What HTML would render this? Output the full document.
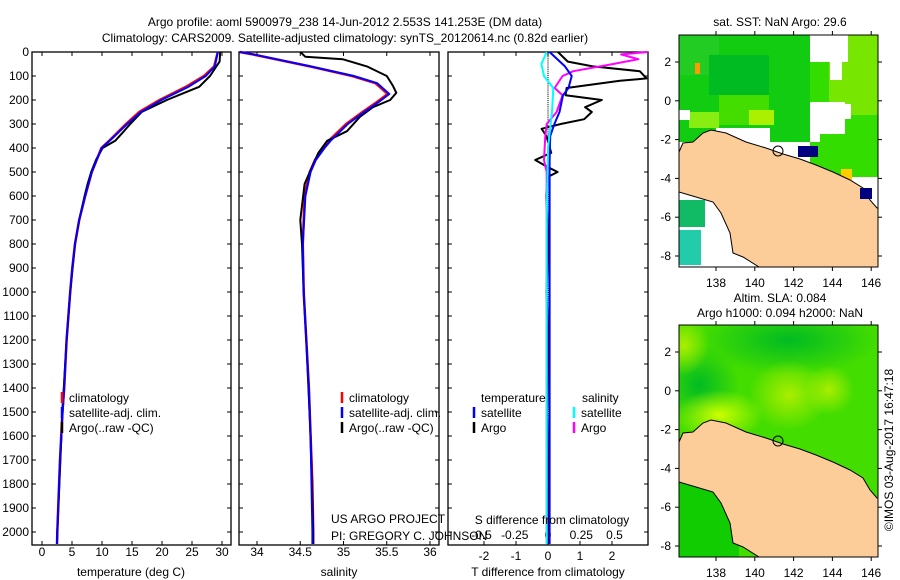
<!DOCTYPE html>
<html><head><meta charset="utf-8">
<style>
body{margin:0;background:#fff;width:900px;height:580px;overflow:hidden}
svg{position:absolute;left:0;top:0}
text{font-family:"Liberation Sans",sans-serif;font-size:12px;fill:#000}
</style></head>
<body>
<svg id="root" width="900" height="580" viewBox="0 0 900 580">
<text x="345" y="26" text-anchor="middle" font-size="13">Argo profile: aoml 5900979_238 14-Jun-2012 2.553S 141.253E (DM data)</text>
<text x="345" y="42" text-anchor="middle" font-size="13">Climatology: CARS2009. Satellite-adjusted climatology: synTS_20120614.nc (0.82d earlier)</text>
<g id="panels"></g>
<g id="maps"></g>
<text transform="translate(893,450) rotate(-90)" text-anchor="middle">©IMOS 03-Aug-2017 16:47:18</text>
</svg>
<script>
// ---- data ----
const depthTicks=[0,100,200,300,400,500,600,700,800,900,1000,1100,1200,1300,1400,1500,1600,1700,1800,1900,2000];
const tempTicks=[0,5,10,15,20,25,30];
const salTicks=[34,34.5,35,35.5,36];
const salTickLabels=["34","34.5","35","35.5","36"];
const tdTicks=[-2,-1,0,1,2];
const sdTicks=[-0.5,-0.25,0,0.25,0.5];
const sdTickLabels=["-0.5","-0.25","0","0.25","0.5"];
const climDepth=[0,60,100,145,200,250,300,367,400,500,600,700,800,900,1000,1100,1200,1400,1500,1700,1900,2000,2050];
const climTemp=[29.3,28.7,27.0,24.0,19.6,16.2,14.0,11.3,9.9,8.3,7.2,6.2,5.5,5.05,4.7,4.4,4.1,3.7,3.4,3.0,2.7,2.55,2.5];
const satTemp=[29.3,28.8,27.3,24.4,19.9,16.5,14.2,11.4,9.95,8.3,7.2,6.2,5.5,5.05,4.7,4.4,4.1,3.7,3.45,3.0,2.7,2.55,2.5];
const argoTDepth=[0,40,100,145,160,200,250,300,340,370,400,450,500,550,600,700,800,1000,1200,1500,2000,2050];
const argoTemp=[29.7,29.6,28.0,26.2,24.7,20.8,16.6,14.7,13.3,12.2,10.1,9.0,8.2,7.6,7.1,6.2,5.5,4.7,4.1,3.4,2.55,2.5];
const salDepth=[0,10,60,100,130,175,210,250,300,370,400,450,500,600,800,1000,1200,1400,1600,1800,2000,2050];
const climSal=[33.80,33.95,34.61,35.10,35.37,35.51,35.38,35.22,35.03,34.83,34.76,34.67,34.61,34.55,34.53,34.54,34.57,34.60,34.62,34.64,34.65,34.65];
const satSal=[33.80,33.96,34.62,35.12,35.39,35.53,35.40,35.24,35.05,34.85,34.78,34.68,34.62,34.56,34.53,34.54,34.57,34.60,34.62,34.63,34.64,34.64];
const argoSDepth=[0,20,30,60,100,140,170,200,230,270,330,370,420,500,550,700,800,1000,1200,1600,2000,2050];
const argoSal=[34.50,34.56,34.99,35.27,35.50,35.57,35.61,35.54,35.34,35.19,35.04,34.81,34.71,34.61,34.55,34.50,34.52,34.54,34.57,34.62,34.65,34.65];
const dTDepth=[0,60,100,150,180,250,300,350,450,600,1000,1500,2050];
const dTsat=[0.05,0.53,0.74,0.64,0.47,0.36,0.2,0.07,0.05,0.05,0.05,0.05,0.05];
const dADepth=[0,40,60,80,110,120,150,180,200,230,250,280,300,320,350,420,450,480,500,520,600,800,1000,1200,1500,1800,2050];
const dTargo=[0.31,0.62,1.4,2.87,3.08,2.25,0.58,0.55,1.68,1.16,1.37,1.13,0.4,-0.2,-0.05,0.1,-0.4,0.0,0.3,0.0,-0.05,0.02,-0.05,0.02,-0.03,0.02,0];
const dSDepth=[0,10,30,50,80,100,150,180,250,300,350,450,500,700,1000,1500,2050];
const dSargo=[0.75,0.55,0.68,0.49,0.19,0.11,0.05,0.11,0.065,-0.01,-0.02,-0.03,-0.01,-0.01,-0.01,-0.01,-0.01];
const dSsatDepth=[0,50,100,150,250,400,700,1000,1500,2050];
const dSsat=[-0.01,-0.05,-0.03,0.04,0.03,0.0,-0.01,-0.01,-0.01,-0.01];

const NS="http://www.w3.org/2000/svg";
const G=document.getElementById('panels');
function el(tag,attrs,parent,txt){const e=document.createElementNS(NS,tag);for(const k in attrs)e.setAttribute(k,attrs[k]);if(txt!==undefined)e.textContent=txt;(parent||G).appendChild(e);return e;}
const yD=d=>52+d*0.24;
const xT=t=>42+t*6;
const xS=s=>257+(s-34)*86.5;
const xdT=v=>548+v*32;
const xdS=v=>548+v*133;
const TOP=52,BOT=545;

function panel(x0,x1,name){
  const r=el('rect',{x:x0,y:TOP,width:x1-x0,height:BOT-TOP,fill:'none',stroke:'#000','stroke-width':1.3});
  
  
  depthTicks.forEach(d=>{
    el('line',{x1:x0,x2:x0+4,y1:yD(d),y2:yD(d),stroke:'#000'});
    el('line',{x1:x1-4,x2:x1,y1:yD(d),y2:yD(d),stroke:'#000'});
  });
}
function xticks(vals,fx,labels,ly){
  vals.forEach((v,i)=>{
    const x=fx(v);
    el('line',{x1:x,x2:x,y1:BOT,y2:BOT-4,stroke:'#000'});
    el('line',{x1:x,x2:x,y1:TOP,y2:TOP+4,stroke:'#000'});
    if(labels){const t=el('text',{x:x,y:ly,'text-anchor':'middle'},G,labels[i]);
      
      }
  });
}
function line(ds,vs,fx,color,name,w){
  const pts=ds.map((d,i)=>fx(vs[i]).toFixed(1)+','+yD(d).toFixed(1)).join(' ');
  const p=el('polyline',{points:pts,fill:'none',stroke:color,'stroke-width':w||2,'stroke-linejoin':'round'});
  
  
}
function label(x,y,s,name,anchor){const t=el('text',{x:x,y:y,'text-anchor':anchor||'start'},G,s);
  
  }
function legend(x,y,color,s,name){
  el('line',{x1:x,x2:x,y1:y-10,y2:y+1,stroke:color,'stroke-width':2.5});
  label(x+7,y,s,name);
}

// panel 1 temperature
panel(32,231,'temperature-panel');
xticks(tempTicks,xT,tempTicks.map(String),556);
depthTicks.forEach(d=>label(29,yD(d)+4,String(d),'y-tick-label','end'));
line(climDepth,climTemp,xT,'#ff0000','temp-climatology-line',2.5);
line(argoTDepth,argoTemp,xT,'#000','temp-argo-line');
line(climDepth,satTemp,xT,'#0000ff','temp-satellite-line');
label(131,576,'temperature (deg C)','x-axis-title-temperature','middle');
legend(62,402,'#ff0000','climatology','legend-climatology');
legend(62,417,'#0000ff','satellite-adj. clim.','legend-satellite');
legend(62,432,'#000','Argo(..raw -QC)','legend-argo');

// panel 2 salinity
panel(239,439,'salinity-panel');
xticks(salTicks,xS,salTickLabels,556);
line(salDepth,climSal,xS,'#ff0000','sal-climatology-line',2.5);
line(argoSDepth,argoSal,xS,'#000','sal-argo-line');
line(salDepth,satSal,xS,'#0000ff','sal-satellite-line');
label(339,576,'salinity','x-axis-title-salinity','middle');
legend(342,402,'#ff0000','climatology','legend-climatology-2');
legend(342,417,'#0000ff','satellite-adj. clim.','legend-satellite-2');
legend(342,432,'#000','Argo(..raw -QC)','legend-argo-2');
label(331,523,'US ARGO PROJECT','project-label');
label(331,540,'PI: GREGORY C. JOHNSON','pi-label');

// panel 3 differences
panel(448,648,'difference-panel');
xticks(tdTicks,xdT,tdTicks.map(String),560);
sdTicks.forEach((v,i)=>label(xdS(v),539,sdTickLabels[i],'s-tick-label','middle'));
for(let d=0;d<2050;d+=8){el('line',{x1:548,x2:548,y1:yD(d),y2:yD(d)+1,stroke:'#000','stroke-width':1});}
line(dADepth,dTargo,xdT,'#000','tdiff-argo-line');
line(dSDepth,dSargo,xdS,'#ff00ff','sdiff-argo-line');
line(dTDepth,dTsat,xdT,'#0000ff','tdiff-satellite-line');
line(dSsatDepth,dSsat,xdS,'#00ffff','sdiff-satellite-line');
label(548,576,'T difference from climatology','x-axis-title-tdiff','middle');
label(552,524,'S difference from climatology','s-axis-title','middle');
label(481,402,'temperature','legend-temperature-header');
label(582,402,'salinity','legend-salinity-header');
legend(474,417,'#0000ff','satellite','legend-t-satellite');
legend(474,432,'#000','Argo','legend-t-argo');
legend(574,417,'#00ffff','satellite','legend-s-satellite');
legend(574,432,'#ff00ff','Argo','legend-s-argo');

// ---- maps ----
const M=document.getElementById('maps');
const lonTicks=[138,140,142,144,146];
const latTicks=[2,0,-2,-4,-6,-8];
const coast=[[0,117],[4,108],[14,107],[24,98],[32,95],[47,98],[67,107],[87,113],[104,119],[121,124],[137,130],[154,137],[171,145],[184,153],[191,165],[198,173],[199,173],[199,232],[80,232],[64,222],[54,218],[51,198],[42,178],[34,167],[17,162],[0,157]];
function mapFrame(y0,name,drawOcean){
  const g=el('g',{transform:'translate(679,'+y0+')'},M);
  
  
  el('clipPath',{id:'c'+y0},g);
  el('rect',{x:0,y:0,width:199,height:232},g.lastChild);
  const inner=el('g',{'clip-path':'url(#c'+y0+')'},g);
  drawOcean(inner);
  el('polygon',{points:coast.map(p=>p.join(',')).join(' '),fill:'#fccc99',stroke:'#000','stroke-width':1},inner);
  const c=el('circle',{cx:99,cy:116,r:5,fill:'none',stroke:'#000'},inner);
  
  
  el('rect',{x:0,y:0,width:199,height:232,fill:'none',stroke:'#000'},g);
  lonTicks.forEach(l=>{const x=37+(l-138)*19.4;
    el('line',{x1:x,x2:x,y1:232,y2:236,stroke:'#000'},g);
    el('line',{x1:x,x2:x,y1:0,y2:-4,stroke:'#000'},g);
    const t=el('text',{x:x,y:252,'text-anchor':'middle'},g,String(l));
    });
  latTicks.forEach(l=>{const y=27+(2-l)*19.4;
    el('line',{x1:0,x2:-4,y1:y,y2:y,stroke:'#000'},g);
    el('line',{x1:199,x2:203,y1:y,y2:y,stroke:'#000'},g);
    const t=el('text',{x:-8,y:y+4,'text-anchor':'end'},g,String(l));
    });
  return g;
}
const sstCells=[[0,0,131,107,'#11cc11'],[131,0,68,142,'#33dd00'],[150,0,49,80,'#77e600'],[0,0,40,40,'#22cc22'],[40,60,50,30,'#44dd00'],[10,77,30,16,'#88ee11'],[70,75,25,15,'#aaf000'],[30,20,60,40,'#00bb22'],
 [131,0,38,27,'#fff'],[151,27,12,18,'#fff'],[0,75,11,10,'#fff'],[37,93,54,20,'#fff'],[131,67,35,32,'#fff'],[131,99,10,8,'#fff'],[166,69,6,15,'#fff'],[131,107,68,8,'#33dd00'],
 [119,111,20,11,'#000080'],[162,134,11,11,'#ffcc00'],[0,165,26,27,'#11bb66'],[0,195,22,35,'#22ccaa'],[16,28,5,11,'#ff9900']];
mapFrame(35,'sst-map',g=>{
  el('rect',{x:0,y:0,width:199,height:232,fill:'#fff'},g);
  sstCells.forEach(c=>el('rect',{x:c[0],y:c[1],width:c[2],height:c[3],fill:c[4]},g));
});
el('rect',{x:860,y:188,width:12,height:11,fill:'#000080'},M);
const t1=el('text',{x:780,y:26,'text-anchor':'middle'},M,'sat. SST: NaN Argo: 29.6');


mapFrame(325,'sla-map',g=>{
  const defs=el('defs',{},g);
  [['gy','#ccff00'],['gd','#00bb22'],['gl','#aaee00']].forEach(a=>{
    const rg=el('radialGradient',{id:a[0]},defs);
    el('stop',{offset:'0','stop-color':a[1],'stop-opacity':1},rg);
    el('stop',{offset:'1','stop-color':a[1],'stop-opacity':0},rg);});
  el('rect',{x:0,y:0,width:199,height:232,fill:'#44dd00'},g);
  el('ellipse',{cx:110,cy:15,rx:90,ry:35,fill:'url(#gd)'},g);
  el('ellipse',{cx:20,cy:60,rx:40,ry:40,fill:'url(#gd)'},g);
  el('ellipse',{cx:110,cy:70,rx:40,ry:35,fill:'url(#gl)'},g);
  el('ellipse',{cx:150,cy:65,rx:25,ry:25,fill:'url(#gl)'},g);
  el('ellipse',{cx:40,cy:90,rx:45,ry:25,fill:'url(#gy)'},g);
  el('ellipse',{cx:5,cy:20,rx:25,ry:30,fill:'url(#gl)'},g);
  el('rect',{x:0,y:157,width:60,height:75,fill:'#11cc00'},g);
});
const t2=el('text',{x:780,y:302,'text-anchor':'middle'},M,'Altim. SLA: 0.084');

const t3=el('text',{x:780,y:317,'text-anchor':'middle'},M,'Argo h1000: 0.094 h2000: NaN');

</script>
</body></html>
